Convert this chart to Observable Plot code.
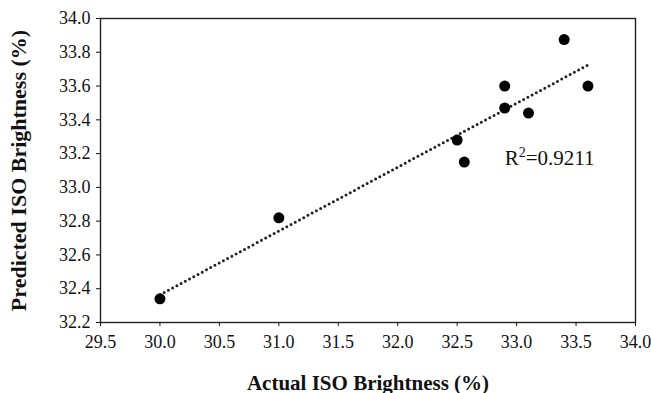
<!DOCTYPE html>
<html>
<head>
<meta charset="utf-8">
<script src="https://cdn.jsdelivr.net/npm/d3@7"></script>
<script src="https://cdn.jsdelivr.net/npm/@observablehq/plot@0.6"></script>
<style>
  html, body { margin: 0; padding: 0; background: #fff; }
  g[aria-label="x-axis label"] text { font-weight: bold; font-size: 21px; }
  g[aria-label="y-axis label"] text { font-weight: bold; font-size: 22px; }
</style>
</head>
<body>
<div id="chart"></div>
<script>
const actual = [30.0, 31.0, 32.5, 32.56, 32.9, 32.9, 33.1, 33.4, 33.6];
const predicted = [32.34, 32.82, 33.28, 33.15, 33.47, 33.6, 33.44, 33.875, 33.6];
const xTicks = [29.5, 30.0, 30.5, 31.0, 31.5, 32.0, 32.5, 33.0, 33.5, 34.0];
const yTicks = [32.2, 32.4, 32.6, 32.8, 33.0, 33.2, 33.4, 33.6, 33.8, 34.0];
const r2Parts = ["R", "2", "=0.9211"];
const r2Pos = [{x: 32.90, y: 33.175}];

const data = actual.map((x, i) => ({x, y: predicted[i]}));

const chart = Plot.plot({
  width: 651,
  height: 393,
  marginLeft: 100,
  marginRight: 16,
  marginTop: 18,
  marginBottom: 71,
  style: {fontFamily: "'Liberation Serif', serif", fontSize: "18px", color: "#111", background: "#fff"},
  x: {domain: [29.5, 34.0]},
  y: {domain: [32.2, 34.0]},
  marks: [
    Plot.frame({stroke: "#222", strokeWidth: 1.4}),
    Plot.axisX({ticks: xTicks, tickFormat: d => d.toFixed(1), tickSize: 4, tickPadding: 9, label: "Actual ISO Brightness (%)", labelAnchor: "center", labelOffset: 67, labelArrow: "none"}),
    Plot.axisY({ticks: yTicks, tickFormat: d => d.toFixed(1), tickSize: 4, tickPadding: 6, label: "Predicted ISO Brightness (%)", labelAnchor: "center", labelOffset: 90, labelArrow: "none"}),
    Plot.linearRegressionY(data, {x: "x", y: "y", ci: 0, stroke: "#222", strokeWidth: 3, strokeDasharray: "0,4.8", strokeLinecap: "round"}),
    Plot.dot(data, {x: "x", y: "y", r: 5.5, fill: "#000", stroke: "none"}),
    Plot.text(r2Pos, {x: "x", y: "y", text: () => r2Parts.join(""), textAnchor: "start", fontSize: 21, fill: "#111", className: "r2label"})
  ]
});
document.getElementById("chart").appendChild(chart);

// render the superscript in R² as real tspans
d3.select(chart).selectAll(".r2label text").each(function() {
  const t = d3.select(this);
  t.text(null);
  t.append("tspan").text(r2Parts[0]);
  t.append("tspan").attr("dy", "-8").attr("font-size", "14px").text(r2Parts[1]);
  t.append("tspan").attr("dy", "8").text(r2Parts[2]);
});
</script>
</body>
</html>
